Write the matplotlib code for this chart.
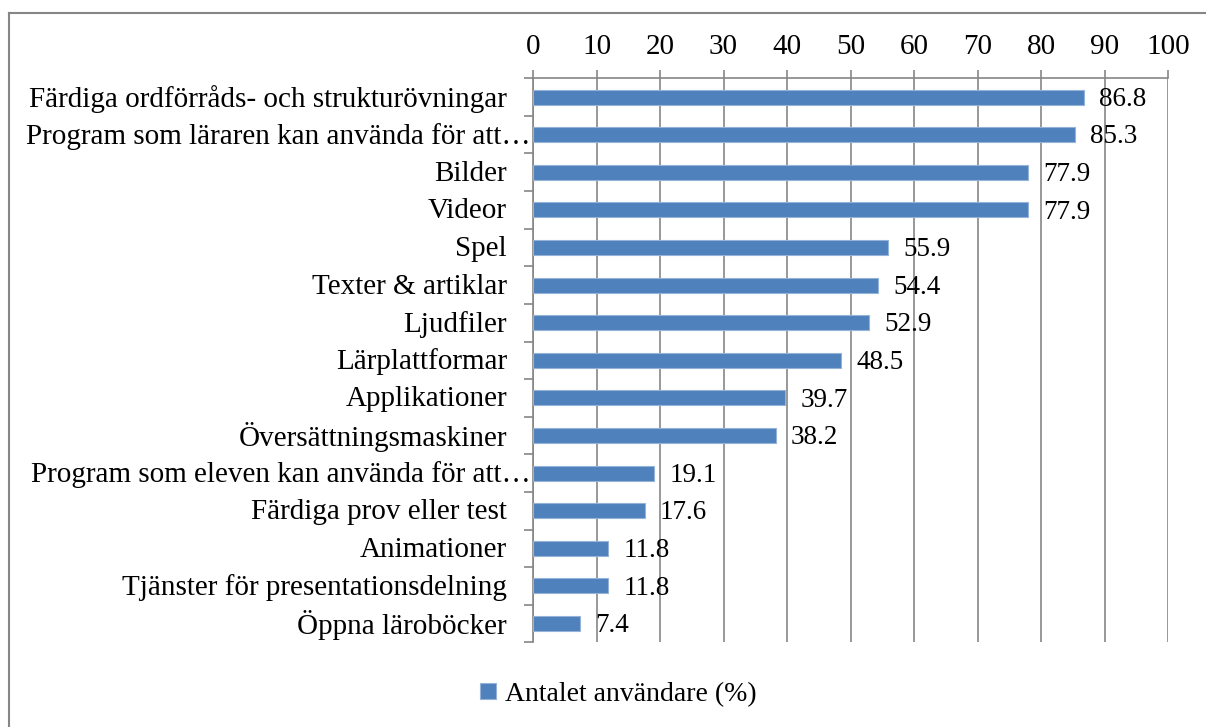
import matplotlib.pyplot as plt
import matplotlib.transforms as mtrans
import numpy as np

plt.rcParams['font.family'] = ['Liberation Serif', 'DejaVu Serif']

categories = [
    'Färdiga ordförråds- och strukturövningar',
    'Program som läraren kan använda för att…',
    'Bilder',
    'Videor',
    'Spel',
    'Texter & artiklar',
    'Ljudfiler',
    'Lärplattformar',
    'Applikationer',
    'Översättningsmaskiner',
    'Program som eleven kan använda för att…',
    'Färdiga prov eller test',
    'Animationer',
    'Tjänster för presentationsdelning',
    'Öppna läroböcker',
]
values = [86.8, 85.3, 77.9, 77.9, 55.9, 54.4, 52.9, 48.5, 39.7, 38.2,
          19.1, 17.6, 11.8, 11.8, 7.4]
series_name = 'Antalet användare (%)'

grey = '#868686'
bar_col = '#4F81BD'

fig = plt.figure(figsize=(12.06, 7.27), dpi=100)
ax = fig.add_axes([0.442, 0.1165, 0.5265, 0.7758])

y = np.arange(len(categories))
bars = ax.barh(y, values, height=0.4, color=bar_col, edgecolor='#95B3D7',
               linewidth=0.8, label=series_name, zorder=3)
for yi, v in zip(y, values):
    ax.text(v + 2.4, yi + 0.06, f'{v:.1f}', va='center', ha='left', fontsize=19.5, zorder=4)

# category labels (truncated ones sit right against the axis, like Excel)
trans = mtrans.blended_transform_factory(ax.transAxes, ax.transData)
for yi, lab in zip(y, categories):
    xpos = -0.004 if lab.endswith('…') else -0.041
    ax.text(xpos, yi + 0.04, lab, transform=trans, ha='right', va='center', fontsize=21)

ax.set_ylim(len(categories) - 0.5, -0.5)
ax.set_xlim(0, 100)
ax.set_xticks(np.arange(0, 101, 10))
ax.xaxis.tick_top()
ax.set_yticks(np.arange(-0.5, len(categories), 1))
ax.set_yticklabels([])
ax.tick_params(axis='y', which='major', length=6.5, color=grey, width=1.2)
ax.tick_params(axis='x', length=6, color=grey, width=1.2, labelsize=21, pad=7)
ax.grid(axis='x', color=grey, linewidth=1.2, zorder=0)
for s in ['right', 'bottom']:
    ax.spines[s].set_visible(False)
for s in ['left', 'top']:
    ax.spines[s].set_color(grey)
    ax.spines[s].set_linewidth(1.2)

fig.legend(handles=[bars], labels=[series_name], loc='center', bbox_to_anchor=(0.513, 0.045),
           frameon=False, fontsize=20, handlelength=0.55, handleheight=0.55, handletextpad=0.35)

# outer chart border
fig.add_artist(plt.Line2D([0.0075, 0.0075], [0, 0.982], color=grey, linewidth=1.5))
fig.add_artist(plt.Line2D([0.0075, 1], [0.982, 0.982], color=grey, linewidth=1.5))

fig.savefig('out.png', dpi=100)
